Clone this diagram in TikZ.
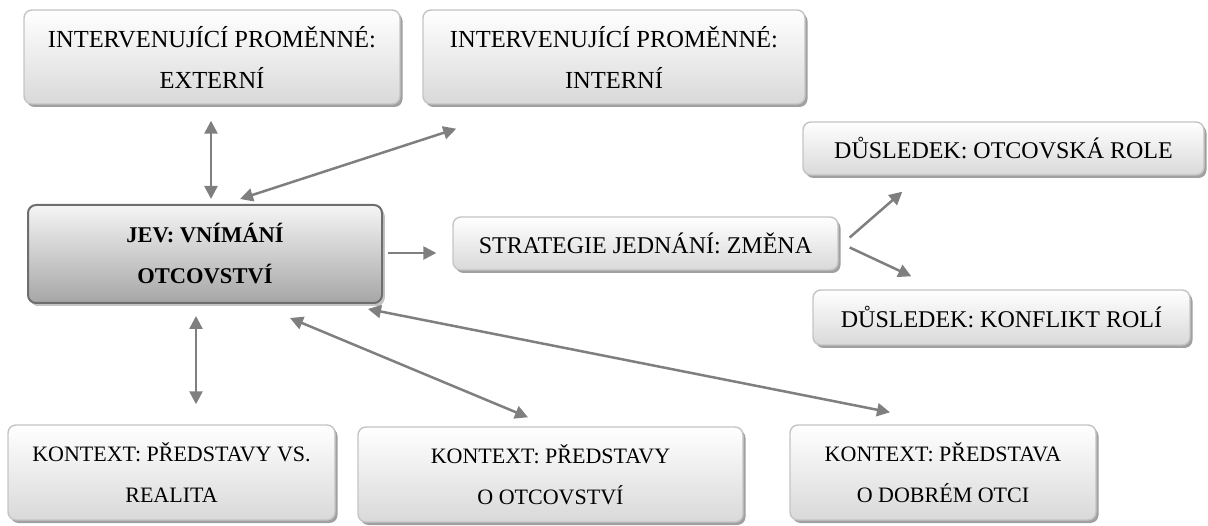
\documentclass[tikz,border=0pt]{standalone}
\usepackage{fontspec}
\setmainfont{Liberation Serif}
\usetikzlibrary{arrows.meta,shadows,calc}
\definecolor{arrgray}{HTML}{7F7F7F}
\definecolor{boxline}{HTML}{C4C4C4}
\definecolor{boxbot}{HTML}{D9D9D9}
\definecolor{mainline}{HTML}{6E6E6E}
\definecolor{mainbot}{HTML}{A6A6A6}
\definecolor{shadowgray}{HTML}{A0A0A0}
\tikzset{
  box/.style={draw=boxline, line width=1.4pt, rounded corners=8pt,
    top color=white, bottom color=boxbot, align=center,
    inner sep=0pt, font=\fontsize{24}{41}\selectfont,
    general shadow={fill=shadowgray, shadow xshift=2.5pt, shadow yshift=-3pt}},
  ipbox/.style={box, font=\fontsize{24.5}{41}\selectfont},
  kbox/.style={box, font=\fontsize{22}{41}\selectfont},
  mainbox/.style={box, draw=mainline, line width=2pt, top color=white!96!black,
    bottom color=mainbot, font=\fontsize{22.5}{41}\selectfont\bfseries,
    general shadow={fill=boxline, shadow xshift=2.5pt, shadow yshift=-3pt}},
  arr/.style={draw=arrgray, line width=2.5pt, -{Triangle[length=13pt,width=13pt]}},
  barr/.style={draw=arrgray, line width=2.5pt, {Triangle[length=13pt,width=13pt]}-{Triangle[length=13pt,width=13pt]}}
}
\begin{document}
\begin{tikzpicture}[x=1pt,y=-1pt]
\useasboundingbox (0,0) rectangle (1208,526);
\node[ipbox, minimum width=376pt, minimum height=94pt] (ipext) at (212,57) {INTERVENUJÍCÍ PROMĚNNÉ:\\EXTERNÍ};
\node[ipbox, minimum width=382pt, minimum height=94pt] (ipint) at (614,57) {INTERVENUJÍCÍ PROMĚNNÉ:\\INTERNÍ};
\node[mainbox, minimum width=354pt, minimum height=98pt] (jev) at (205,254) {JEV: VNÍMÁNÍ\\OTCOVSTVÍ};
\node[box, minimum width=385pt, minimum height=53pt] (strat) at (645.5,243.5) {STRATEGIE JEDNÁNÍ: ZMĚNA};
\node[box, minimum width=401pt, minimum height=53pt] (d1) at (1003.5,148.5) {DŮSLEDEK: OTCOVSKÁ ROLE};
\node[box, minimum width=377pt, minimum height=55pt] (d2) at (1001.5,317.5) {DŮSLEDEK: KONFLIKT ROLÍ};
\node[kbox, minimum width=327pt, minimum height=95pt] (k1) at (171.5,472.5) {KONTEXT: PŘEDSTAVY VS.\\REALITA};
\node[kbox, minimum width=385pt, minimum height=95pt] (k2) at (550.5,474.5) {KONTEXT: PŘEDSTAVY\\O OTCOVSTVÍ};
\node[kbox, minimum width=306pt, minimum height=95pt] (k3) at (943,472.5) {KONTEXT: PŘEDSTAVA\\O DOBRÉM OTCI};

\draw[barr] ($(ipext.south)+(-1,16)$) -- ($(jev.north)+(6,-5)$);
\draw[barr] ($(jev.north)+(35,-5)$) -- ($(ipint.south west)+(34,24)$);
\draw[arr] ($(jev.east)+(5,-1)$) -- ($(strat.west)+(-16,9.5)$);
\draw[arr] ($(strat.east)+(11,-6)$) -- ($(d1.south west)+(100,16)$);
\draw[arr] ($(strat.east)+(11,4)$) -- ($(d2.north west)+(99,-13)$);
\draw[barr] ($(jev.south)+(-9,12)$) -- ($(k1.north)+(24.5,-20)$);
\draw[barr] ($(jev.south)+(85,14)$) -- ($(k2.north)+(-22.5,-9)$);
\draw[barr] ($(jev.south east)+(-15,5)$) -- ($(k3.north)+(-53,-12)$);
\end{tikzpicture}
\end{document}
